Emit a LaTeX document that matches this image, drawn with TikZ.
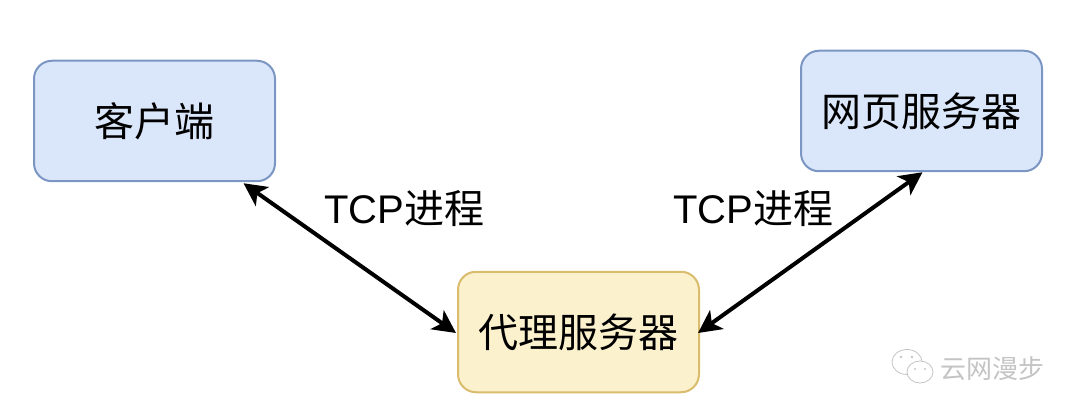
\documentclass[tikz,border=0pt]{standalone}
\usepackage{fontspec}
\setmainfont{Liberation Sans}
\newfontfamily\cjk{Noto Sans CJK SC}
\usepackage{xcolor}
\usetikzlibrary{positioning,arrows.meta,shapes.geometric}
\definecolor{clientfill}{HTML}{DAE6FA}
\definecolor{clientline}{HTML}{7C96C4}
\definecolor{proxyfill}{HTML}{FCF1CD}
\definecolor{proxyline}{HTML}{D9BC6C}
\definecolor{markgray}{HTML}{C4C4C4}

\begin{document}
\begin{tikzpicture}[
  x=1pt, y=1pt,
  box/.style={draw=clientline, fill=clientfill, line width=2pt, rounded corners=18pt,
    minimum width=241pt, minimum height=120.5pt, align=center, font=\fontsize{40}{44}\selectfont\cjk},
  proxybox/.style={box, draw=proxyline, fill=proxyfill},
  lbl/.style={inner sep=0pt, font=\fontsize{40}{44}\selectfont},
  arr/.style={{Stealth[length=23pt,width=23pt,inset=6pt]}-{Stealth[length=23pt,width=23pt,inset=6pt]}, line width=4pt},
  bubble/.style={draw=markgray, fill=white, line width=0.8pt}
]
\useasboundingbox (0,0) rectangle (1080,-417);

\node[box] (client) at (154.5,-121) {客户端};
\node[proxybox, below right=88.5pt and 181pt of client] (proxy) {代理服务器};
\node[box, right=524pt of client, yshift=10pt] (web) {网页服务器};

\node[lbl] (tcpa) at ([shift={(-53pt,62.5pt)}]proxy.north west) {TCP{\cjk 进程}};
\node[lbl] (tcpb) at ([shift={(53pt,62.5pt)}]proxy.north east) {TCP{\cjk 进程}};

\draw[arr] ([xshift=89pt,yshift=-1pt]client.south) -- ([xshift=-1pt,yshift=-1pt]proxy.west);
\draw[arr] ([xshift=-2pt,yshift=-1pt]proxy.east) -- ([xshift=1pt,yshift=0pt]web.south);

% watermark
\node[inner sep=0pt, text=markgray, font=\fontsize{26}{28}\selectfont\cjk] (mark) at (992,-369) {云网漫步};
\node[bubble, ellipse, minimum width=30pt, minimum height=25pt, inner sep=0pt] (bubblea) at (907,-362) {};
\node[bubble, ellipse, minimum width=26pt, minimum height=22pt, inner sep=0pt] (bubbleb) at (920,-372) {};
\fill[markgray] (901,-357) circle (1.3) (912,-357) circle (1.3) (915,-369) circle (1.2) (925,-369) circle (1.2);
\end{tikzpicture}
\end{document}
